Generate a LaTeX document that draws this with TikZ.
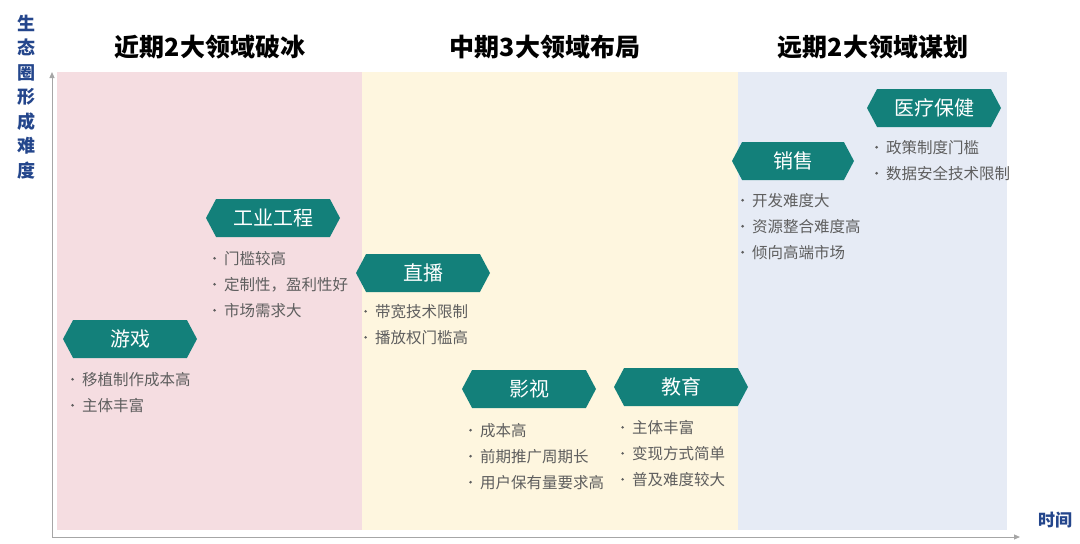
\documentclass[tikz,border=0pt]{standalone}
\usepackage{fontspec}
\setmainfont{Noto Sans CJK SC}
\usetikzlibrary{arrows.meta, positioning, shapes.symbols}
\definecolor{tealbar}{HTML}{13807A}
\definecolor{pinkbg}{HTML}{F5DDE1}
\definecolor{yellowbg}{HTML}{FEF6DF}
\definecolor{bluebg}{HTML}{E6EBF5}
\definecolor{axisblue}{HTML}{24468C}
\definecolor{itemgray}{HTML}{5E5E5E}
\newcommand{\bul}{\makebox[11pt][l]{\raisebox{0.3em}{\tikz\fill[itemgray] (0,0) circle (1.4pt);}}}

\begin{document}
\begin{tikzpicture}[
        x=1pt, y=-1pt,
        banner/.style={shape=signal, signal to=west and east, signal pointer angle=124,
            fill=tealbar, text=white, minimum width=134pt, minimum height=38pt,
            inner sep=0pt, font=\fontsize{20}{24}\selectfont},
        items/.style={anchor=north west, align=left, text=itemgray, inner sep=0pt,
            font=\fontsize{15.5}{26}\selectfont},
        phase/.style={font=\bfseries\fontsize{25}{30}\selectfont},
        every node/.style={font=\small}
    ]
        \useasboundingbox (0,0) rectangle (1080,544);
        % background panels
        \fill[pinkbg] (57,72) rectangle (362,530);
        \fill[yellowbg] (362,72) rectangle (738,530);
        \fill[bluebg] (738,72) rectangle (1007,530);

        % axes
        \coordinate (origin) at (52,537);
        \coordinate (ytop) at (52,72);
        \coordinate (xend) at (1020,537);
        \draw[gray!70, line width=1pt, -{Triangle[length=6pt,width=5pt]}] (origin) -- (ytop);
        \draw[gray!70, line width=1pt, -{Triangle[length=6pt,width=5pt]}] (origin) -- (xend);
        \node[text=axisblue, align=center, font=\bfseries\fontsize{18}{24.5}\selectfont] (ylabel) at (26,97)
            {生\\态\\圈\\形\\成\\难\\度};
        \node[text=axisblue, font=\bfseries\fontsize{17}{20}\selectfont] (xlabel) at (1055,520) {时间};

        % phase titles
        \node[phase] (near) at (210,47) {近期2大领域破冰};
        \node[phase] (mid) at (545,47) {中期3大领域布局};
        \node[phase] (far) at (873,47) {远期2大领域谋划};

        % fields
        \node[banner] (game) at (130,339) {游戏};
        \node[items] (gamelist) at (71,372) {\bul 移植制作成本高\\\bul 主体丰富};

        \node[banner] (industry) at (273,218) {工业工程};
        \node[items] (industrylist) at (213,251) {\bul 门槛较高\\\bul 定制性，盈利性好\\\bul 市场需求大};

        \node[banner] (live) at (423,273) {直播};
        \node[items] (livelist) at (364,304) {\bul 带宽技术限制\\\bul 播放权门槛高};

        \node[banner] (film) at (529,389) {影视};
        \node[items] (filmlist) at (469,423) {\bul 成本高\\\bul 前期推广周期长\\\bul 用户保有量要求高};

        \node[banner] (edu) at (681,387) {教育};
        \node[items] (edulist) at (621,420) {\bul 主体丰富\\\bul 变现方式简单\\\bul 普及难度较大};

        \node[banner, minimum width=122pt] (sales) at (793,161) {销售};
        \node[items] (saleslist) at (741,193) {\bul 开发难度大\\\bul 资源整合难度高\\\bul 倾向高端市场};

        \node[banner] (health) at (934,108) {医疗保健};
        \node[items] (healthlist) at (875,140) {\bul 政策制度门槛\\\bul 数据安全技术限制};
    \end{tikzpicture}
\end{document}
